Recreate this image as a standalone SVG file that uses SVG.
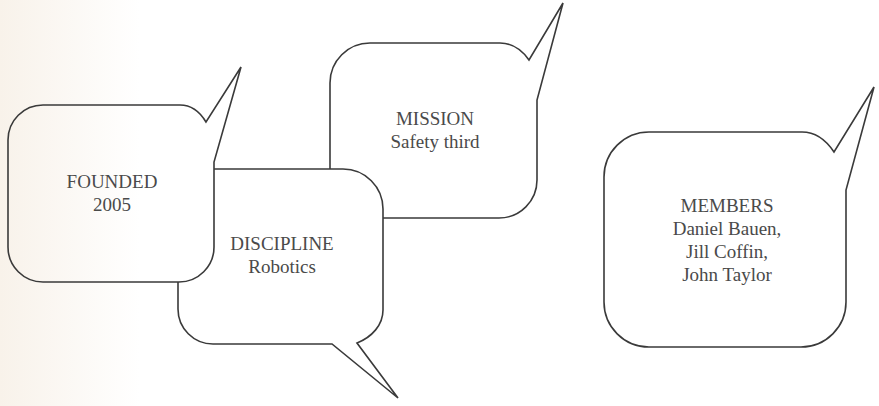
<svg xmlns="http://www.w3.org/2000/svg" width="879" height="406" viewBox="0 0 879 406">
  <defs>
    <linearGradient id="bg" gradientUnits="userSpaceOnUse" x1="0" y1="0" x2="140" y2="0">
      <stop offset="0" stop-color="#f8f2ea"/>
      <stop offset="1" stop-color="#ffffff"/>
    </linearGradient>
  </defs>
  <style>
    .bubble { fill: url(#bg); stroke: #3a3a3a; stroke-width: 1.6; stroke-linejoin: miter; }
    .label { font-family: "Liberation Serif", "DejaVu Serif", serif; font-size: 19px; fill: #4a4a4a; text-anchor: middle; }
  </style>
  <rect width="879" height="406" fill="url(#bg)"/>
  <g id="connectors"/>
  <g id="mission">
    <path class="bubble" d="M 370,43 H 500 C 512,43 522,50 529,60 L 563,3 L 537,100 V 180 A 38 38 0 0 1 499,218 H 368 A 38 38 0 0 1 330,180 V 83 A 40 40 0 0 1 370,43 Z"/>
    <text class="label" x="435" y="125">MISSION</text>
    <text class="label" x="435" y="148">Safety third</text>
  </g>
  <g id="discipline">
    <path class="bubble" d="M 218,169 H 343 A 40 40 0 0 1 383,209 V 310 C 383,325 372,337 357,343 L 398,398 L 332,344 H 213 A 35 35 0 0 1 178,309 V 204 A 35 35 0 0 1 213,169 Z"/>
    <text class="label" x="282" y="250">DISCIPLINE</text>
    <text class="label" x="282" y="273">Robotics</text>
  </g>
  <g id="founded">
    <path class="bubble" d="M 43,105 H 180 C 192,105 200,112 206,122 L 241,67 L 214,162 V 247 A 35 35 0 0 1 179,282 H 43 A 35 35 0 0 1 8,247 V 140 A 35 35 0 0 1 43,105 Z"/>
    <text class="label" x="112" y="188">FOUNDED</text>
    <text class="label" x="112" y="211">2005</text>
  </g>
  <g id="members">
    <path class="bubble" d="M 649,132 H 802 C 815,132 826,140 834,152 L 874,87 L 846,190 V 302 A 45 45 0 0 1 801,347 H 649 A 45 45 0 0 1 604,302 V 177 A 45 45 0 0 1 649,132 Z"/>
    <text class="label" x="727" y="212">MEMBERS</text>
    <text class="label" x="727" y="235">Daniel Bauen,</text>
    <text class="label" x="727" y="258">Jill Coffin,</text>
    <text class="label" x="727" y="281">John Taylor</text>
  </g>
</svg>
